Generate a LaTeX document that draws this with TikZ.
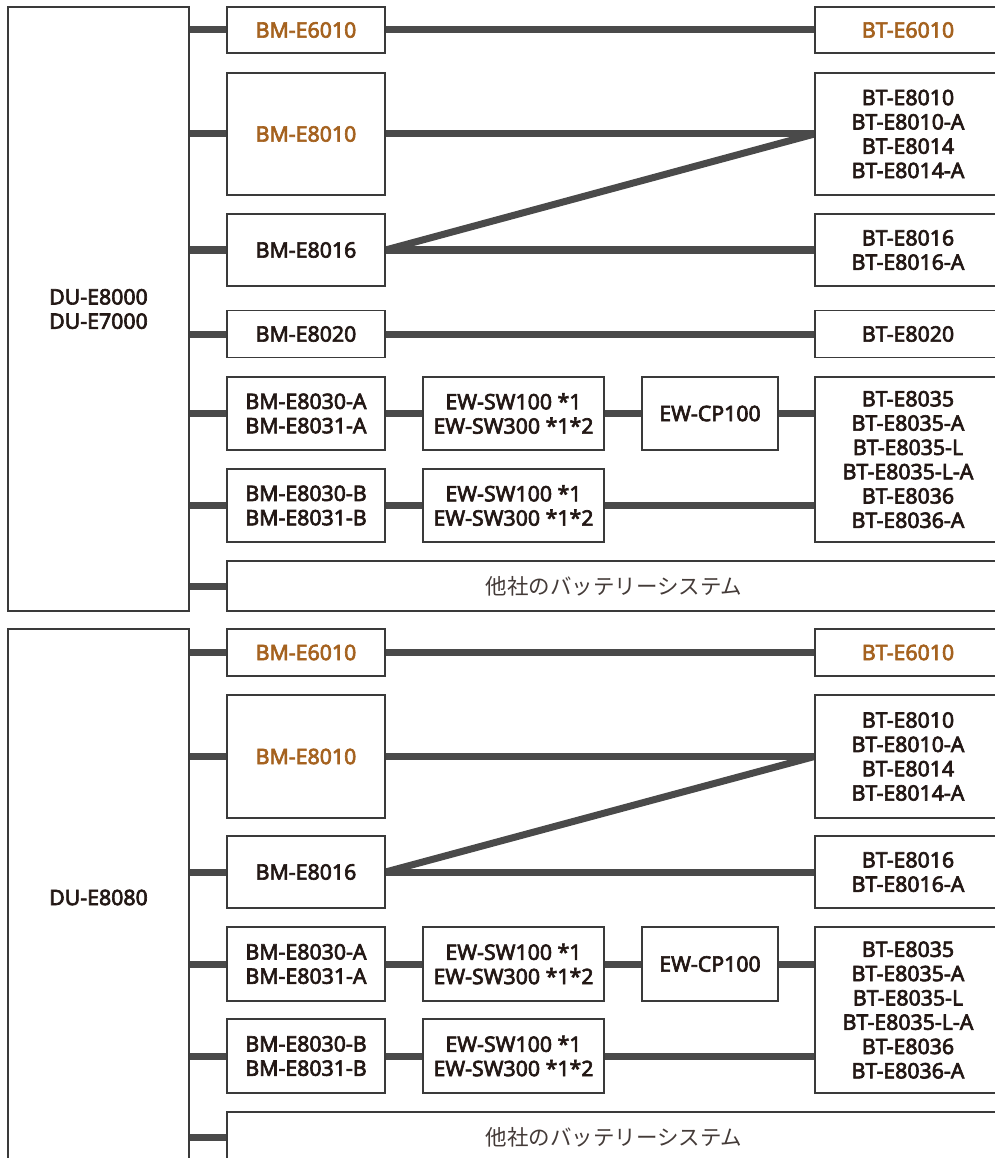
\documentclass[tikz,border=0pt]{standalone}
\usepackage{fontspec}
\usetikzlibrary{backgrounds}
\newfontfamily\latf{Noto Sans}[FakeBold=3]
\newfontfamily\jpf{Noto Sans CJK JP}
\definecolor{txt}{HTML}{231815}
\definecolor{org}{HTML}{A5621F}
\definecolor{boxc}{HTML}{3A3A3A}
\definecolor{linec}{HTML}{4A4A4A}
\tikzset{
  box/.style={draw=boxc, line width=1.1pt, fill=white, inner sep=0pt, align=center,
    text=txt, font=\latf\fontsize{21.3}{24.3}\selectfont},
  obox/.style={box, text=org},
  jbox/.style={box, font=\jpf\fontsize{21.5}{24}\selectfont, text=txt!85},
  conn/.style={line width=7pt, draw=linec},
}
\begin{document}
\begin{tikzpicture}[x=1pt,y=-1pt]
\useasboundingbox (0,0) rectangle (994,1158);
% ---------- top section ----------
\node[box, minimum width=181pt, minimum height=604pt] (du1) at (98.5,309) {DU-E8000\\DU-E7000};
\node[obox, minimum width=158pt, minimum height=46pt] (a1) at (306,30) {BM-E6010};
\node[obox, minimum width=158pt, minimum height=122pt] (a2) at (306,134) {BM-E8010};
\node[box, minimum width=158pt, minimum height=72pt] (a3) at (306,250) {BM-E8016};
\node[box, minimum width=158pt, minimum height=47pt] (a4) at (306,334) {BM-E8020};
\node[box, minimum width=158pt, minimum height=73pt] (a5) at (306,413.5) {BM-E8030-A\\BM-E8031-A};
\node[box, minimum width=158pt, minimum height=73pt] (a6) at (306,505.5) {BM-E8030-B\\BM-E8031-B};
\node[jbox, minimum width=774pt, minimum height=50pt] (a7) at (614,586) {他社のバッテリーシステム};
\node[box, minimum width=181pt, minimum height=73pt] (s5) at (513.5,413.5) {EW-SW100 *1\\EW-SW300 *1*2};
\node[box, minimum width=181pt, minimum height=73pt] (s6) at (513.5,505.5) {EW-SW100 *1\\EW-SW300 *1*2};
\node[box, minimum width=136pt, minimum height=73pt] (cp1) at (710,413.5) {EW-CP100};
\node[obox, minimum width=186pt, minimum height=46pt] (t1) at (908,30) {BT-E6010};
\node[box, minimum width=186pt, minimum height=122pt] (t2) at (908,134) {BT-E8010\\BT-E8010-A\\BT-E8014\\BT-E8014-A};
\node[box, minimum width=186pt, minimum height=72pt] (t3) at (908,250) {BT-E8016\\BT-E8016-A};
\node[box, minimum width=186pt, minimum height=47pt] (t4) at (908,334) {BT-E8020};
\node[box, minimum width=186pt, minimum height=165pt] (t5) at (908,459.5) {BT-E8035\\BT-E8035-A\\BT-E8035-L\\BT-E8035-L-A\\BT-E8036\\BT-E8036-A};
% ---------- bottom section ----------
\node[box, minimum width=181pt, minimum height=537pt] (du2) at (98.5,897.5) {DU-E8080};
\node[obox, minimum width=158pt, minimum height=47pt] (b1) at (306,652.5) {BM-E6010};
\node[obox, minimum width=158pt, minimum height=123pt] (b2) at (306,756.5) {BM-E8010};
\node[box, minimum width=158pt, minimum height=72pt] (b3) at (306,872) {BM-E8016};
\node[box, minimum width=158pt, minimum height=74pt] (b5) at (306,964) {BM-E8030-A\\BM-E8031-A};
\node[box, minimum width=158pt, minimum height=74pt] (b6) at (306,1056) {BM-E8030-B\\BM-E8031-B};
\node[jbox, minimum width=774pt, minimum height=50pt] (b7) at (614,1137) {他社のバッテリーシステム};
\node[box, minimum width=181pt, minimum height=74pt] (w5) at (513.5,964) {EW-SW100 *1\\EW-SW300 *1*2};
\node[box, minimum width=181pt, minimum height=74pt] (w6) at (513.5,1056) {EW-SW100 *1\\EW-SW300 *1*2};
\node[box, minimum width=136pt, minimum height=74pt] (cp2) at (710,964) {EW-CP100};
\node[obox, minimum width=186pt, minimum height=47pt] (u1) at (908,652.5) {BT-E6010};
\node[box, minimum width=186pt, minimum height=123pt] (u2) at (908,756.5) {BT-E8010\\BT-E8010-A\\BT-E8014\\BT-E8014-A};
\node[box, minimum width=186pt, minimum height=72pt] (u3) at (908,872) {BT-E8016\\BT-E8016-A};
\node[box, minimum width=186pt, minimum height=166pt] (u5) at (908,1010) {BT-E8035\\BT-E8035-A\\BT-E8035-L\\BT-E8035-L-A\\BT-E8036\\BT-E8036-A};
% ---------- connectors ----------
\begin{scope}[on background layer]
\fill[white] (0,0) rectangle (994,1158);
\foreach \n in {a1,a2,a3,a4,a5,a6,a7} {\draw[conn] (du1.east |- \n.west) -- (\n.west);}
\foreach \n in {b1,b2,b3,b5,b6,b7} {\draw[conn] (du2.east |- \n.west) -- (\n.west);}
\draw[conn] (a1) -- (t1);
\draw[conn] (a2.east) -- (t2.west);
\draw[conn] (a3.east) -- (t2.west);
\draw[conn] (a3.east) -- (t3.west);
\draw[conn] (a4) -- (t4);
\draw[conn] (a5) -- (s5);
\draw[conn] (s5) -- (cp1);
\draw[conn] (cp1.east) -- (t5.west |- cp1.east);
\draw[conn] (a6) -- (s6);
\draw[conn] (s6.east) -- (t5.west |- s6.east);
\draw[conn] (b1) -- (u1);
\draw[conn] (b2.east) -- (u2.west);
\draw[conn] (b3.east) -- (u2.west);
\draw[conn] (b3.east) -- (u3.west);
\draw[conn] (b5) -- (w5);
\draw[conn] (w5) -- (cp2);
\draw[conn] (cp2.east) -- (u5.west |- cp2.east);
\draw[conn] (b6) -- (w6);
\draw[conn] (w6.east) -- (u5.west |- w6.east);
\end{scope}
\end{tikzpicture}
\end{document}
